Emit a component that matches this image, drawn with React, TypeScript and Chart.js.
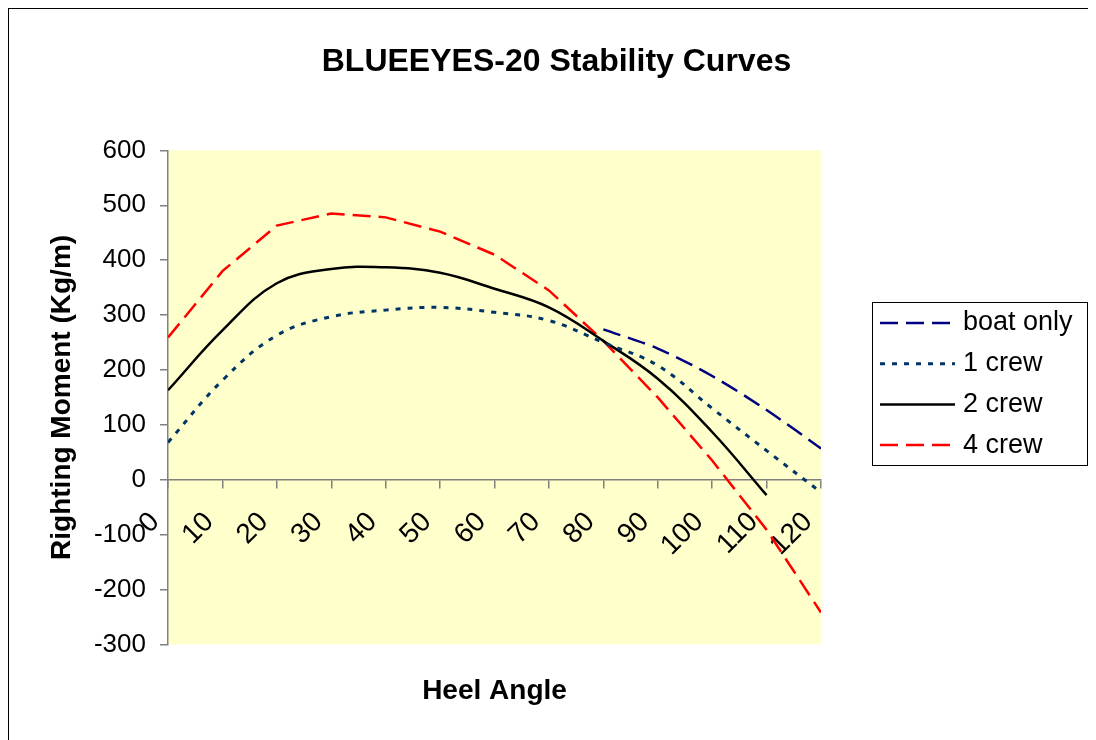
import React, { useEffect, useRef } from 'react';
import { Chart, registerables } from 'chart.js';

Chart.register(...registerables);

// ---- data ----
const angles = [0, 10, 20, 30, 40, 50, 60, 70, 80, 90, 100, 110, 120];
const boatOnly = [null, null, null, null, null, null, null, null, 274, 239, 189, 127, 57];
const crew1 = [68, 181, 263, 297, 309, 314, 305, 290, 250, 208, 130, 53, -23];
const crew2 = [163, 272, 358, 384, 387, 377, 348, 314, 253, 184, 87, -28, null];
const crew4 = [259, 380, 463, 485, 478, 452, 410, 345, 253, 150, 35, -91, -242];
const seriesNames = ['boat only', '1 crew', '2 crew', '4 crew'];
const yMin = -300;
const yMax = 600;
const yStep = 100;
const xStep = 10;
const chartTitle = 'BLUEEYES-20 Stability Curves';
const xTitle = 'Heel Angle';
const yTitle = 'Righting Moment (Kg/m)';

const FONT = "'Liberation Sans', Arial, sans-serif";
const W = 1087;
const H = 731;

const bgPlugin = {
  id: 'plotBg',
  beforeDraw(chart: any) {
    const { ctx, chartArea } = chart;
    ctx.save();
    ctx.fillStyle = '#FFFFCC';
    ctx.fillRect(chartArea.left, chartArea.top, chartArea.right - chartArea.left, chartArea.bottom - chartArea.top);
    ctx.restore();
  },
};

const legendPlugin = {
  id: 'boxLegend',
  afterDraw(chart: any) {
    const ctx = chart.ctx;
    ctx.save();
    ctx.setLineDash([]);
    ctx.strokeStyle = '#000';
    ctx.lineWidth = 1;
    ctx.strokeRect(863.5, 293.5, 215, 163);
    chart.data.datasets.forEach((ds: any, i: number) => {
      const y = 314 + i * 40.7;
      ctx.beginPath();
      ctx.setLineDash(ds.borderDash || []);
      ctx.lineCap = 'butt';
      ctx.strokeStyle = ds.borderColor;
      ctx.lineWidth = ds.borderWidth;
      ctx.moveTo(871, y);
      ctx.lineTo(946, y);
      ctx.stroke();
      ctx.setLineDash([]);
      ctx.fillStyle = '#000';
      ctx.font = `27px ${FONT}`;
      ctx.textBaseline = 'middle';
      ctx.textAlign = 'left';
      ctx.fillText(ds.label, 954, y);
    });
    ctx.restore();
  },
};

function toPoints(vals: (number | null)[]) {
  return angles
    .map((a, i) => ({ x: a, y: vals[i] }))
    .filter((p) => p.y !== null) as { x: number; y: number }[];
}

export default function App() {
  const ref = useRef<HTMLCanvasElement>(null);

  useEffect(() => {
    document.documentElement.style.overflow = 'hidden';
    document.body.style.overflow = 'hidden';
    Chart.defaults.font.family = FONT;
    Chart.defaults.color = '#000';
    const chart = new Chart(ref.current as HTMLCanvasElement, {
      type: 'line',
      data: {
        datasets: [
          {
            label: seriesNames[0],
            data: toPoints(boatOnly),
            borderColor: '#000080',
            borderWidth: 2.5,
            borderDash: [18, 8],
            tension: 0.3,
            pointRadius: 0,
            fill: false,
          },
          {
            label: seriesNames[1],
            data: toPoints(crew1),
            borderColor: '#003366',
            borderWidth: 3,
            borderDash: [5, 7],
            tension: 0.4,
            pointRadius: 0,
            fill: false,
          },
          {
            label: seriesNames[2],
            data: toPoints(crew2),
            borderColor: '#000000',
            borderWidth: 2.5,
            borderDash: [],
            tension: 0.4,
            pointRadius: 0,
            fill: false,
          },
          {
            label: seriesNames[3],
            data: toPoints(crew4),
            borderColor: '#FF0000',
            borderWidth: 2.5,
            borderDash: [18, 8],
            tension: 0,
            pointRadius: 0,
            fill: false,
          },
        ],
      },
      options: {
        responsive: false,
        animation: false,
        devicePixelRatio: 1,
        layout: { padding: { left: 8, right: 0, top: 0, bottom: 0 } },
        plugins: {
          legend: { display: false },
          tooltip: { enabled: false },
          title: {
            display: true,
            text: chartTitle,
            color: '#000',
            font: { size: 32, weight: 'bold', family: FONT, lineHeight: 1.2 },
            padding: { top: 34, bottom: 69 },
          },
          subtitle: {
            display: true,
            text: xTitle,
            position: 'bottom',
            fullSize: false,
            color: '#000',
            font: { size: 28, weight: 'bold', family: FONT, lineHeight: 1.2 },
            padding: { top: 30, bottom: 32 },
          },
        },
        scales: {
          x: {
            type: 'linear',
            min: angles[0],
            max: angles[angles.length - 1],
            position: { y: 0 },
            afterFit: (s: any) => {
              s.height = 0;
            },
            border: { display: true, color: '#808080', width: 1.5 },
            grid: { drawOnChartArea: false, drawTicks: true, tickLength: 8, color: '#808080', lineWidth: 1.5 },
            ticks: {
              stepSize: xStep,
              autoSkip: false,
              minRotation: 45,
              maxRotation: 45,
              padding: 18,
              labelOffset: -13,
              color: '#000',
              font: { size: 28, family: FONT },
              callback: (v: any) => String(v),
            },
          },
          y: {
            type: 'linear',
            min: yMin,
            max: yMax,
            position: 'left',
            afterFit: (s: any) => {
              s.width = 151;
            },
            border: { display: true, color: '#808080', width: 1.5 },
            grid: { drawOnChartArea: false, drawTicks: true, tickLength: 8, color: '#808080', lineWidth: 1.5 },
            ticks: {
              stepSize: yStep,
              padding: 14,
              color: '#000',
              font: { size: 26, family: FONT },
            },
            title: {
              display: true,
              text: yTitle,
              color: '#000',
              font: { size: 28, weight: 'bold', family: FONT, lineHeight: 1.2 },
              padding: { top: 28, bottom: 0 },
            },
          },
          yR: {
            type: 'linear',
            position: 'right',
            display: true,
            afterFit: (s: any) => {
              s.width = 275;
            },
            border: { display: false },
            grid: { display: false, drawTicks: false },
            ticks: { display: false },
          },
        },
      } as any,
      plugins: [bgPlugin, legendPlugin],
    });
    return () => chart.destroy();
  }, []);

  return (
    <div
      style={{
        width: W,
        height: H,
        borderLeft: '1px solid #000',
        borderTop: '1px solid #000',
        overflow: 'hidden',
        background: '#fff',
      }}
    >
      <canvas ref={ref} width={W} height={H} style={{ display: 'block', width: W, height: H }} />
    </div>
  );
}
